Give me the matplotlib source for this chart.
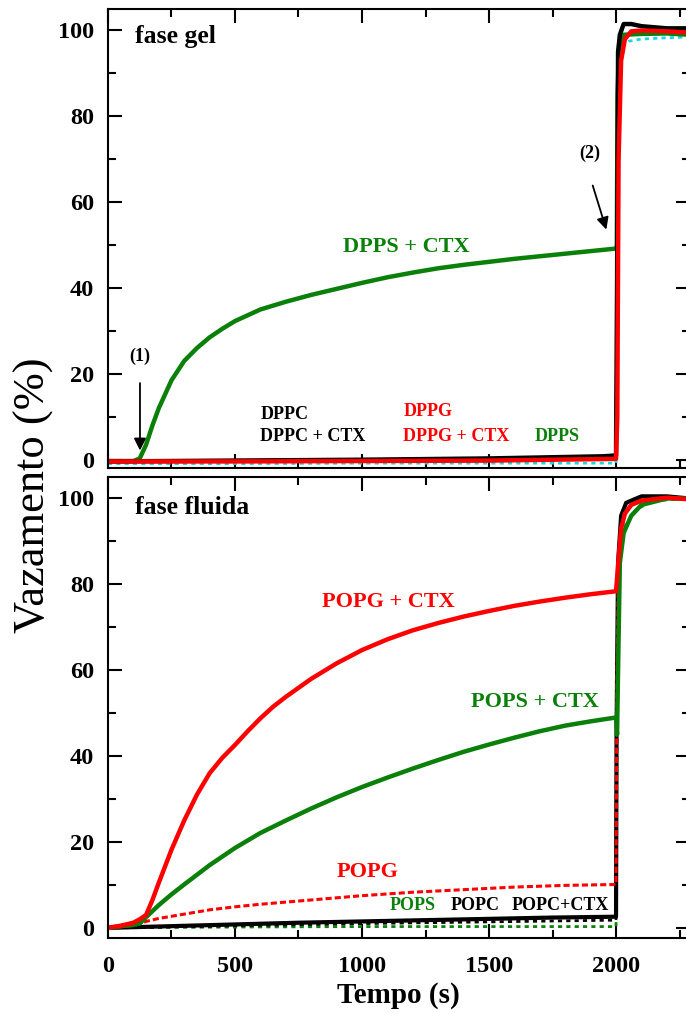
import numpy as np
import matplotlib
matplotlib.use("Agg")
import matplotlib.pyplot as plt
from matplotlib.ticker import MultipleLocator

plt.rcParams['font.family'] = ['Liberation Serif', 'DejaVu Serif']

RED = '#ff0000'
GREEN = '#0a800a'
CYAN = '#19d8e6'

# ---- fase gel (top panel) ----
dpps_ctx_t = [0, 100, 125, 150, 175, 200, 250, 300, 350, 400, 450, 500, 600, 700, 800, 900,
              1000, 1100, 1200, 1300, 1400, 1500, 1600, 1700, 1800, 1900, 2000,
              2003, 2006, 2012, 2030, 2100, 2200, 2290]
dpps_ctx_v = [-0.3, -0.3, 0.3, 3.5, 8, 12, 18.5, 23, 26, 28.5, 30.5, 32.3, 35, 36.8, 38.4, 39.8,
              41.2, 42.5, 43.6, 44.6, 45.4, 46.1, 46.8, 47.4, 48, 48.6, 49.2,
              50, 85, 96, 99.0, 99.2, 99.3, 99.0]

dppc_t = [0, 500, 1000, 1500, 1950, 2000, 2004, 2008, 2015, 2030, 2060, 2100, 2200, 2290]
dppc_v = [-0.4, -0.2, 0.0, 0.3, 0.8, 1.0, 40, 95, 99, 101.5, 101.5, 101, 100.5, 100.5]

dppg_t = [0, 500, 1000, 1500, 2000, 2005, 2010, 2020, 2035, 2060, 2100, 2200, 2290]
dppg_v = [-0.4, -0.4, -0.3, -0.2, 0.2, 10, 70, 93, 98, 99.8, 100, 99.8, 99.5]

dpps_t = [0, 500, 1000, 1500, 2000, 2004, 2008, 2020, 2050, 2100, 2200, 2290]
dpps_v = [-0.9, -0.9, -0.8, -0.8, -0.8, 30, 90, 96, 97.5, 98, 98.3, 98.5]

# ---- fase fluida (bottom panel) ----
popg_ctx_t = [0, 50, 100, 125, 150, 175, 200, 250, 300, 350, 400, 450, 500, 550, 600, 650,
              700, 800, 900, 1000, 1100, 1200, 1300, 1400, 1500, 1600, 1700, 1800, 1900, 2000,
              2010, 2020, 2035, 2060, 2100, 2200, 2290]
popg_ctx_v = [0, 0.5, 1.2, 2.0, 3.0, 6.5, 10.5, 18.2, 25, 31.0, 36, 39.6, 42.6, 45.8, 48.8, 51.5,
              53.8, 58.0, 61.6, 64.7, 67.2, 69.3, 71.0, 72.5, 73.8, 75.0, 76.0, 76.9, 77.7, 78.4,
              86, 93, 96.5, 98.5, 99.5, 100.2, 99.8]

pops_ctx_t = [0, 50, 100, 125, 150, 200, 250, 300, 400, 500, 600, 700, 800, 900, 1000,
              1100, 1200, 1300, 1400, 1500, 1600, 1700, 1800, 1900, 2000,
              2004, 2008, 2015, 2030, 2060, 2100, 2200, 2290]
pops_ctx_v = [0, 0.4, 0.7, 1.0, 2.5, 5.3, 7.8, 10.1, 14.6, 18.6, 22.1, 25, 27.8, 30.4, 32.8,
              35, 37.1, 39.1, 41, 42.7, 44.3, 45.8, 47.1, 48.1, 49,
              45, 60, 85, 92, 96, 98.5, 100, 100]

popg_t = [0, 100, 150, 200, 300, 400, 500, 600, 800, 1000, 1200, 1400, 1600, 1800, 2000,
          2004, 2010, 2030, 2060, 2100, 2200, 2290]
popg_v = [0, 0.5, 1.5, 2.2, 3.2, 4.2, 4.9, 5.5, 6.5, 7.5, 8.3, 8.9, 9.5, 9.9, 10.1,
          60, 85, 96, 98.5, 99.5, 100.2, 99.8]

popc_ctx_t = [0, 250, 500, 750, 1000, 1250, 1500, 1750, 2000, 2002, 2008, 2020, 2040, 2100, 2200, 2290]
popc_ctx_v = [0, 0.4, 0.8, 1.2, 1.5, 1.8, 2.1, 2.4, 2.6, 45, 85, 96, 99, 100.5, 100.5, 100]

popc_t = [0, 500, 1000, 1500, 2000, 2002, 2008, 2020, 2040, 2100, 2200, 2290]
popc_v = [0, 0.5, 1.0, 1.4, 1.8, 45, 85, 96, 99, 100.5, 100.5, 100]

pops_t = [0, 500, 1000, 1500, 2000, 2004, 2010, 2030, 2080, 2150, 2290]
pops_v = [0, 0.2, 0.3, 0.3, 0.3, 50, 85, 93, 97.5, 99.5, 100]

fig = plt.figure(figsize=(6.86, 10.13), dpi=100)
ax1 = fig.add_axes([0.1574, 0.5377, 0.848, 0.4534])
ax2 = fig.add_axes([0.1574, 0.0745, 0.848, 0.4546])

ax1.plot(dpps_t, dpps_v, color=CYAN, lw=2, ls=(0, (1.5, 1.5)))
ax1.plot(dpps_ctx_t, dpps_ctx_v, color=GREEN, lw=3.2)
ax1.plot(dppc_t, dppc_v, color='black', lw=3.2)
ax1.plot(dppg_t, dppg_v, color=RED, lw=3.2)

ax2.plot(pops_t, pops_v, color=GREEN, lw=2, ls=(0, (1.5, 1.5)))
ax2.plot(popc_t, popc_v, color='black', lw=2, ls=(0, (1.5, 1.5)))
ax2.plot(popc_ctx_t, popc_ctx_v, color='black', lw=3)
ax2.plot(popg_t, popg_v, color=RED, lw=2.2, ls=(0, (2, 1)))
ax2.plot(pops_ctx_t, pops_ctx_v, color=GREEN, lw=3.2)
ax2.plot(popg_ctx_t, popg_ctx_v, color=RED, lw=3.2)

for ax, ylo in ((ax1, -2.0), (ax2, -2.25)):
    ax.set_xlim(0, 2290)
    ax.set_ylim(ylo, 105)
    ax.xaxis.set_major_locator(MultipleLocator(500))
    ax.xaxis.set_minor_locator(MultipleLocator(250))
    ax.yaxis.set_major_locator(MultipleLocator(20))
    ax.yaxis.set_minor_locator(MultipleLocator(10))
    ax.tick_params(which='both', direction='in', top=True, right=True, width=1.5)
    ax.tick_params(which='major', length=10, labelsize=17.5)
    ax.tick_params(which='minor', length=6)
    ax.tick_params(axis='x', pad=13)
    ax.tick_params(axis='y', pad=10)
    for s in ax.spines.values():
        s.set_linewidth(1.5)
    for lab in ax.get_xticklabels() + ax.get_yticklabels():
        lab.set_fontweight('bold')

ax1.tick_params(labelbottom=False)

ax1.text(0.046, 0.941, 'fase gel', transform=ax1.transAxes, fontsize=18.5,
         fontweight='bold', va='center', ha='left')
ax2.text(0.046, 0.933, 'fase fluida', transform=ax2.transAxes, fontsize=18.5,
         fontweight='bold', va='center', ha='left')

ax1.text(1173, 49.5, 'DPPS + CTX', color=GREEN, fontsize=16, fontweight='bold',
         ha='center', va='center')
ax1.text(600, 10.5, 'DPPC', fontsize=13, fontweight='bold', va='center')
ax1.text(600, 5.3, 'DPPC + CTX', fontsize=13, fontweight='bold', va='center')
ax1.text(1163, 11.2, 'DPPG', color=RED, fontsize=13, fontweight='bold', va='center')
ax1.text(1163, 5.3, 'DPPG + CTX', color=RED, fontsize=13, fontweight='bold', va='center')
ax1.text(1680, 5.3, 'DPPS', color=GREEN, fontsize=13, fontweight='bold', va='center')

ax1.annotate('', xy=(126, 1.5), xytext=(126, 18.5),
             arrowprops=dict(arrowstyle='-|>', color='black', lw=1.3, mutation_scale=18))
ax1.text(126, 24, '(1)', fontsize=13, fontweight='bold', ha='center', va='center')
ax1.annotate('', xy=(1965, 53), xytext=(1905, 64.5),
             arrowprops=dict(arrowstyle='-|>', color='black', lw=1.3, mutation_scale=18))
ax1.text(1895, 71.4, '(2)', fontsize=13, fontweight='bold', ha='center', va='center')

ax2.text(1102, 75.9, 'POPG + CTX', color=RED, fontsize=16, fontweight='bold',
         ha='center', va='center')
ax2.text(1680, 52.5, 'POPS + CTX', color=GREEN, fontsize=16, fontweight='bold',
         ha='center', va='center')
ax2.text(1020, 13.0, 'POPG', color=RED, fontsize=16, fontweight='bold', ha='center', va='center')
ax2.text(1200, 5.3, 'POPS', color=GREEN, fontsize=13, fontweight='bold', ha='center', va='center')
ax2.text(1446, 5.3, 'POPC', fontsize=13, fontweight='bold', ha='center', va='center')
ax2.text(1780, 5.3, 'POPC+CTX', fontsize=13, fontweight='bold', ha='center', va='center')

ax2.set_xlabel('Tempo (s)', fontsize=21, fontweight='bold', labelpad=4)
fig.text(0.0496, 0.511, 'Vazamento (%)', rotation=90, fontsize=32, ha='center', va='center')

fig.savefig('out.png', dpi=100)
